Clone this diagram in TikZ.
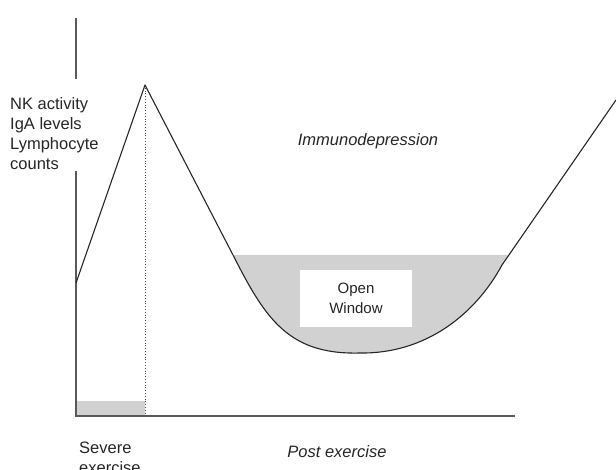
\documentclass[tikz,border=0pt]{standalone}
\usepackage{fontspec}
\setmainfont{Liberation Sans}
\begin{document}
\begin{tikzpicture}[x=1pt,y=-1pt,
  axis/.style={draw=black!65,line width=1.6pt},
  curve/.style={draw=black!85,line width=1.1pt,line join=round},
  fillgray/.style={fill=black!18},
  lbl/.style={font=\fontsize{16.5}{20}\selectfont,text=black!85,inner sep=0pt,align=left}]
\useasboundingbox (0,0) rectangle (616,470);
% coordinates
\coordinate (ytop) at (76,18);
\coordinate (ygapa) at (76,79);
\coordinate (ygapb) at (76,171);
\coordinate (orig) at (76,416);
\coordinate (xend) at (515,416);
\coordinate (start) at (76,283);
\coordinate (peak) at (145,85);
\coordinate (peakfoot) at (145,416);
\coordinate (bendL) at (233,255);
\coordinate (bottom) at (360,353);
\coordinate (bendR) at (502,265);
\coordinate (topR) at (509,255);
\coordinate (endR) at (616,100);
% gray fills
\fill[fillgray] (bendL) .. controls (265,318) and (288,355) .. (bottom)
  .. controls (425,354) and (475,315) .. (bendR) -- (topR) -- cycle;
\fill[fillgray] (76,401) rectangle (peakfoot);
% white box
\node[fill=white,minimum width=112pt,minimum height=57pt,inner sep=0pt,
  font=\fontsize{15}{20}\selectfont,text=black!85,align=center] (win) at (356,298.5) {Open\\Window};
% axes
\draw[axis] (ytop) -- (ygapa);
\draw[axis] (ygapb) -- (orig) -- (xend);
% dotted
\draw[black!70,dotted,line width=0.8pt] (peak) -- (peakfoot);
% curve
\draw[curve] (start) -- (peak) -- (bendL) .. controls (265,318) and (288,355) .. (bottom)
  .. controls (425,354) and (475,315) .. (bendR) -- (endR);
% labels
\node[lbl,anchor=north west] (ylab) at (10,97) {NK activity\\IgA levels\\Lymphocyte\\counts};
\node[lbl,font=\fontsize{16.5}{20}\selectfont\itshape] (imm) at (368,141) {Immunodepression};
\node[lbl,anchor=north west] (sev) at (79,442) {Severe\\exercise};
\node[lbl,font=\fontsize{16.5}{20}\selectfont\itshape] (post) at (337,452) {Post exercise};
\end{tikzpicture}
\end{document}
